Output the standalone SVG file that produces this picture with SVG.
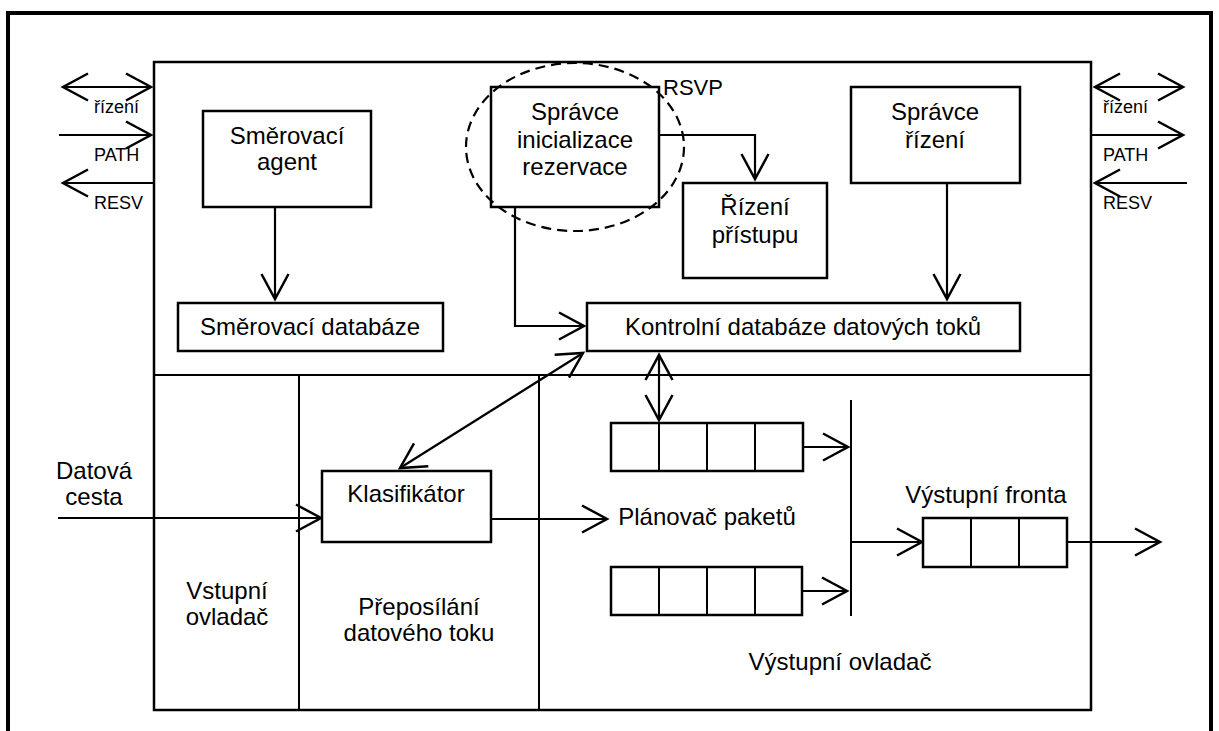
<svg xmlns="http://www.w3.org/2000/svg" width="1219" height="731" viewBox="0 0 1219 731">
<defs>
<style>
text{font-family:"Liberation Sans",Arial,sans-serif;fill:#000}
.t{font-size:24px;text-anchor:middle}
.s{font-size:18px}
.box{fill:#fff;stroke:#000;stroke-width:2.5}
.ln{fill:none;stroke:#000;stroke-width:2}
.ar{fill:none;stroke:#000;stroke-width:2.2;marker-end:url(#ah)}
.dar{fill:none;stroke:#000;stroke-width:2.2;marker-end:url(#ah);marker-start:url(#ah)}
</style>
<marker id="ah" markerUnits="userSpaceOnUse" orient="auto-start-reverse" refX="0" refY="0" markerWidth="60" markerHeight="60" viewBox="-30 -30 60 60" overflow="visible">
<path d="M-25,-13.5 L0,0 L-25,13.5" fill="none" stroke="#000" stroke-width="2.5"/>
</marker>
</defs>
<rect width="1219" height="731" fill="#fff"/>
<g id="frame">
<path d="M8,740 V13 H1211 V740" fill="none" stroke="#000" stroke-width="4"/>
<rect x="154" y="62" width="937" height="648" fill="none" stroke="#000" stroke-width="2.5"/>
<line x1="154" y1="375" x2="1091" y2="375" class="ln" stroke-width="2.5"/>
<line x1="299" y1="375" x2="299" y2="710" class="ln" stroke-width="2.5"/>
<line x1="539" y1="375" x2="539" y2="710" class="ln" stroke-width="2.5"/>
</g>
<g id="connectors">
<line x1="151" y1="87" x2="63" y2="87" class="dar"/>
<line x1="59" y1="135" x2="151" y2="135" class="ar"/>
<line x1="154" y1="183" x2="63" y2="183" class="ar"/>
<line x1="1095" y1="87" x2="1183" y2="87" class="dar"/>
<line x1="1091" y1="135" x2="1183" y2="135" class="ar"/>
<line x1="1187" y1="183" x2="1095" y2="183" class="ar"/>
<line x1="275" y1="207" x2="275" y2="299" class="ar"/>
<polyline points="659,135 755,135 755,179" class="ar"/>
<polyline points="515,207 515,326 584,326" class="ar"/>
<line x1="947" y1="183" x2="947" y2="299" class="ar"/>
<line x1="400" y1="468" x2="583" y2="353" class="dar"/>
<line x1="659" y1="355" x2="659" y2="420" class="dar"/>
<line x1="58" y1="518" x2="321" y2="518" class="ar"/>
<line x1="491" y1="519" x2="607" y2="519" class="ar"/>
<line x1="803" y1="447" x2="848" y2="447" class="ar"/>
<line x1="802" y1="591" x2="847" y2="591" class="ar"/>
<line x1="851" y1="400" x2="851" y2="616" class="ln" stroke-width="2.5"/>
<line x1="851" y1="542" x2="922" y2="542" class="ar"/>
<line x1="1067" y1="542" x2="1160" y2="542" class="ar"/>
</g>
<g id="labels">
<text class="s" x="94" y="113">řízení</text>
<text class="s" x="94" y="161">PATH</text>
<text class="s" x="94" y="209">RESV</text>
<text class="s" x="1103" y="113">řízení</text>
<text class="s" x="1103" y="161">PATH</text>
<text class="s" x="1103" y="209">RESV</text>
<text x="663" y="95" style="font-size:22px">RSVP</text>
<text class="t" x="94" y="479">Datová</text>
<text class="t" x="94" y="505">cesta</text>
<text class="t" x="227" y="599">Vstupní</text>
<text class="t" x="227" y="625">ovladač</text>
<text class="t" x="419" y="615">Přeposílání</text>
<text class="t" x="419" y="641">datového toku</text>
<text class="t" x="840" y="670">Výstupní ovladač</text>
<text class="t" x="707" y="525">Plánovač paketů</text>
<text class="t" x="986" y="503">Výstupní fronta</text>
</g>
<g id="smerovaci-agent">
<rect class="box" x="203" y="111" width="168" height="96"/>
<text class="t" x="287" y="144">Směrovací</text>
<text class="t" x="287" y="170">agent</text>
</g>
<g id="spravce-inicializace">
<rect class="box" x="491" y="87" width="168" height="120"/>
<text class="t" x="575" y="120">Správce</text>
<text class="t" x="575" y="148">inicializace</text>
<text class="t" x="575" y="175">rezervace</text>
</g>
<ellipse id="rsvp" cx="575" cy="147" rx="109" ry="84" fill="none" stroke="#000" stroke-width="2.2" stroke-dasharray="10,6"/>
<g id="rizeni-pristupu">
<rect class="box" x="683" y="183" width="144" height="95"/>
<text class="t" x="755" y="215">Řízení</text>
<text class="t" x="755" y="243">přístupu</text>
</g>
<g id="spravce-rizeni">
<rect class="box" x="851" y="87" width="169" height="96"/>
<text class="t" x="935" y="120">Správce</text>
<text class="t" x="935" y="148">řízení</text>
</g>
<g id="smerovaci-databaze">
<rect class="box" x="178" y="303" width="265" height="48"/>
<text class="t" x="310" y="335">Směrovací databáze</text>
</g>
<g id="kontrolni-databaze">
<rect class="box" x="587" y="303" width="433" height="48"/>
<text class="t" x="803" y="335">Kontrolní databáze datových toků</text>
</g>
<g id="klasifikator">
<rect class="box" x="322" y="471" width="169" height="71"/>
<text class="t" x="406" y="502">Klasifikátor</text>
</g>
<g id="fronta-1">
<rect class="box" x="611" y="423" width="192" height="48"/>
<line x1="659" y1="423" x2="659" y2="471" class="ln" stroke-width="2.5"/>
<line x1="707" y1="423" x2="707" y2="471" class="ln" stroke-width="2.5"/>
<line x1="755" y1="423" x2="755" y2="471" class="ln" stroke-width="2.5"/>
</g>
<g id="fronta-2">
<rect class="box" x="611" y="567" width="191" height="48"/>
<line x1="659" y1="567" x2="659" y2="615" class="ln" stroke-width="2.5"/>
<line x1="707" y1="567" x2="707" y2="615" class="ln" stroke-width="2.5"/>
<line x1="755" y1="567" x2="755" y2="615" class="ln" stroke-width="2.5"/>
</g>
<g id="vystupni-fronta">
<rect class="box" x="923" y="518" width="144" height="49"/>
<line x1="971" y1="518" x2="971" y2="567" class="ln" stroke-width="2.5"/>
<line x1="1019" y1="518" x2="1019" y2="567" class="ln" stroke-width="2.5"/>
</g>
</svg>
